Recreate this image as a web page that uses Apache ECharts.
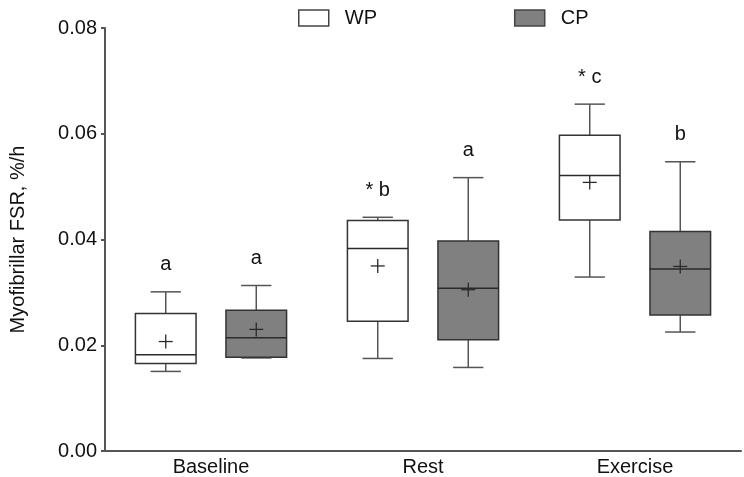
<!DOCTYPE html>
<html>
<head>
<meta charset="utf-8">
<script src="https://cdn.jsdelivr.net/npm/echarts@6/dist/echarts.min.js"></script>
<style>
  html, body { margin: 0; padding: 0; background: #fff; }
  #chart { width: 744px; height: 477px; }
</style>
</head>
<body>
<div id="chart"></div>
<script>
// ---- Data ----
const categories = ['Baseline', 'Rest', 'Exercise'];
const seriesNames = ['WP', 'CP'];

const wpMin    = [0.01505, 0.0175, 0.0329];
const wpQ1     = [0.01655, 0.02455, 0.0437];
const wpMedian = [0.0182, 0.0383, 0.0521];
const wpQ3     = [0.0260, 0.0436, 0.0597];
const wpMax    = [0.0301, 0.0442, 0.0656];
const wpMean   = [0.0207, 0.0350, 0.0508];
const wpLabels = ['a', '* b', '* c'];

const cpMin    = [0.0176, 0.0158, 0.0225];
const cpQ1     = [0.01775, 0.02105, 0.0257];
const cpMedian = [0.0214, 0.0308, 0.0344];
const cpQ3     = [0.0266, 0.0397, 0.0415];
const cpMax    = [0.0313, 0.0517, 0.0547];
const cpMean   = [0.0230, 0.0305, 0.0349];
const cpLabels = ['a', 'a', 'b'];

const yTicks = [0, 0.02, 0.04, 0.06, 0.08];

// ---- Build ----
const FONT = "'Liberation Sans', Arial, sans-serif";
function rows(mins, q1s, meds, q3s, maxs, means) {
  return categories.map((c, i) => [i, mins[i], q1s[i], meds[i], q3s[i], maxs[i], means[i]]);
}

function makeRender(offsetFrac, fill, labels) {
  return function (params, api) {
    const cat = api.value(0);
    const band = api.size([1, 0])[0];
    const cx = api.coord([cat, 0])[0] + offsetFrac * band;
    const w = 0.286 * band;
    const y = k => api.coord([cat, api.value(k)])[1];
    const yMin = y(1), yQ1 = y(2), yMed = y(3), yQ3 = y(4), yMax = y(5), yMean = y(6);
    const capHalf = w / 4;
    const ln = (x1, y1, x2, y2, c, lw) => ({
      type: 'line', shape: { x1, y1, x2, y2 },
      style: { stroke: c || '#3c3c3c', lineWidth: lw || 1.5 }
    });
    return {
      type: 'group',
      children: [
        ln(cx, yQ3, cx, yMax, '#555'),
        ln(cx - capHalf, yMax, cx + capHalf, yMax, '#555'),
        ln(cx, yQ1, cx, yMin, '#555'),
        ln(cx - capHalf, yMin, cx + capHalf, yMin, '#555'),
        {
          type: 'rect',
          shape: { x: cx - w / 2, y: yQ3, width: w, height: yQ1 - yQ3 },
          style: { fill: fill, stroke: '#333', lineWidth: 1.5 }
        },
        ln(cx - w / 2, yMed, cx + w / 2, yMed, '#2a2a2a'),
        ln(cx - 7, yMean, cx + 7, yMean, '#2a2a2a', 1.3),
        ln(cx, yMean - 7, cx, yMean + 7, '#2a2a2a', 1.3),
        {
          type: 'text', x: cx, y: yMax - 27,
          style: {
            text: labels[params.dataIndex], fontSize: 20, fontFamily: FONT,
            fill: '#111', align: 'center', verticalAlign: 'middle'
          }
        }
      ]
    };
  };
}

const chart = echarts.init(document.getElementById('chart'), null, { renderer: 'canvas' });
chart.setOption({
  animation: false,
  backgroundColor: '#fff',
  grid: { left: 100, right: 3, top: 28, bottom: 22, containLabel: false },
  legend: {
    left: 293, top: 3,
    itemWidth: 30, itemHeight: 16, itemGap: 137,
    icon: 'rect',
    textStyle: { fontSize: 20, fontFamily: FONT, color: '#111', padding: [0, 0, 0, 11] },
    data: [
      { name: 'WP', itemStyle: { color: '#fff', borderColor: '#444', borderWidth: 1.5 } },
      { name: 'CP', itemStyle: { color: '#808080', borderColor: '#444', borderWidth: 1.5 } }
    ]
  },
  xAxis: {
    type: 'category',
    data: categories,
    boundaryGap: true,
    axisTick: { show: false },
    axisLine: { lineStyle: { color: '#555', width: 2 } },
    axisLabel: { fontSize: 20, fontFamily: FONT, color: '#111', margin: 6 },
    splitLine: { show: false }
  },
  yAxis: {
    type: 'value',
    min: 0, max: 0.08, interval: 0.02,
    name: 'Myofibrillar FSR, %/h',
    nameLocation: 'middle',
    nameGap: 77,
    nameTextStyle: { fontSize: 20, fontFamily: FONT, color: '#111' },
    axisLine: { show: true, lineStyle: { color: '#555', width: 2 } },
    axisTick: { show: true, length: 4, lineStyle: { color: '#555', width: 2 } },
    axisLabel: {
      fontSize: 20, fontFamily: FONT, color: '#111', margin: 8,
      formatter: v => yTicks.indexOf(v) >= 0 ? v.toFixed(2) : ''
    },
    splitLine: { show: false }
  },
  series: [
    {
      name: 'WP', type: 'custom',
      itemStyle: { color: '#fff', borderColor: '#444' },
      encode: { x: 0, y: [1, 2, 3, 4, 5, 6] },
      data: rows(wpMin, wpQ1, wpMedian, wpQ3, wpMax, wpMean),
      renderItem: makeRender(-0.2135, '#ffffff', wpLabels)
    },
    {
      name: 'CP', type: 'custom',
      itemStyle: { color: '#808080', borderColor: '#444' },
      encode: { x: 0, y: [1, 2, 3, 4, 5, 6] },
      data: rows(cpMin, cpQ1, cpMedian, cpQ3, cpMax, cpMean),
      renderItem: makeRender(0.2135, '#808080', cpLabels)
    }
  ]
});
</script>
</body>
</html>
